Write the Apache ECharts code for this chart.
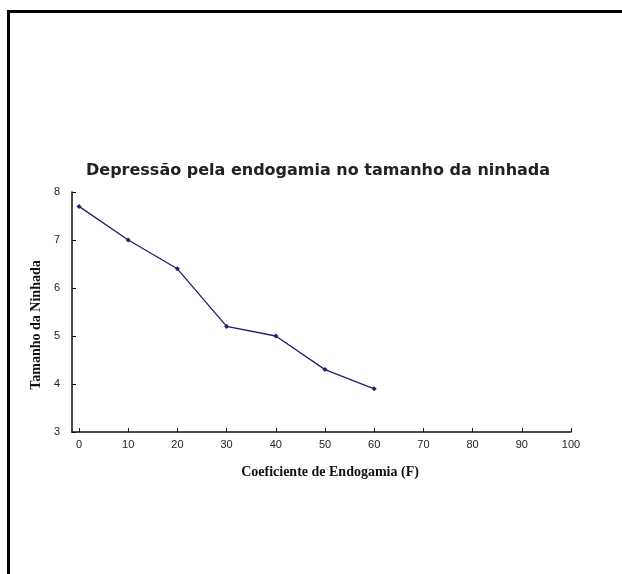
<!DOCTYPE html>
<html>
<head>
<meta charset="utf-8">
<script src="https://cdn.jsdelivr.net/npm/echarts@6/dist/echarts.min.js"></script>
<style>
  html, body { margin: 0; padding: 0; background: #fff; }
  #chart { position: absolute; left: 0; top: 0; width: 622px; height: 574px; }
  #frame { position: absolute; left: 7px; top: 10px; width: 640px; height: 600px;
           border-left: 3px solid #000; border-top: 3px solid #000; pointer-events: none; }
</style>
</head>
<body>
<div id="chart"></div>
<div id="frame"></div>
<script>
// Inbreeding coefficient (F, %) and mean litter size
const coefficientF = [0, 10, 20, 30, 40, 50, 60];
const litterSize = [7.7, 7.0, 6.4, 5.2, 5.0, 4.3, 3.9];
const xTicks = [0, 10, 20, 30, 40, 50, 60, 70, 80, 90, 100];
const yTicks = [3, 4, 5, 6, 7, 8];

const titleText = 'Depressão pela endogamia no tamanho da ninhada';
const xName = 'Coeficiente de Endogamia (F)';
const yName = 'Tamanho da Ninhada';

const chart = echarts.init(document.getElementById('chart'));
const axisColor = '#111';
const labelStyle = { color: '#222', fontFamily: 'Liberation Sans, Arial, sans-serif', fontSize: 11 };
const nameStyle = { fontFamily: 'Liberation Serif, serif', fontWeight: 'bold', fontSize: 14, color: '#111' };

chart.setOption({
  animation: false,
  backgroundColor: '#fff',
  title: {
    text: titleText,
    left: 81,
    top: 158,
    textStyle: { fontFamily: 'DejaVu Sans, sans-serif', fontSize: 16, fontWeight: 'bold', color: '#222' }
  },
  grid: { left: 79, right: 51, top: 192, bottom: 142 },
  xAxis: {
    type: 'value',
    min: xTicks[0],
    max: xTicks[xTicks.length - 1],
    interval: 10,
    name: xName,
    nameLocation: 'middle',
    nameGap: 33,
    nameTextStyle: Object.assign({ padding: [0, 0, 0, 10] }, nameStyle),
    axisLine: { onZero: false, lineStyle: { color: axisColor, width: 1.5 } },
    axisTick: { inside: true, length: 4, lineStyle: { color: axisColor } },
    axisLabel: Object.assign({ margin: 7 }, labelStyle),
    splitLine: { show: false }
  },
  yAxis: {
    type: 'value',
    min: yTicks[0],
    max: yTicks[yTicks.length - 1],
    interval: 1,
    offset: 7,
    name: yName,
    nameLocation: 'middle',
    nameGap: 22,
    nameTextStyle: Object.assign({ padding: [0, 26, 0, 0] }, nameStyle),
    axisLine: { show: true, onZero: false, lineStyle: { color: axisColor, width: 1.5 } },
    axisTick: { show: true, inside: true, length: 4, lineStyle: { color: axisColor } },
    axisLabel: Object.assign({ margin: 12 }, labelStyle),
    splitLine: { show: false }
  },
  series: [{
    type: 'line',
    data: coefficientF.map((f, i) => [f, litterSize[i]]),
    symbol: 'diamond',
    symbolSize: 5,
    lineStyle: { color: '#1f1f6b', width: 1.3 },
    itemStyle: { color: '#1f1f6b' }
  }]
});

// Close the gap between the offset y-axis line and the x-axis line at the origin
const origin = chart.convertToPixel({ gridIndex: 0 }, [xTicks[0], yTicks[0]]);
chart.setOption({
  graphic: [{
    type: 'line',
    shape: { x1: origin[0] - 7.75, y1: origin[1], x2: origin[0], y2: origin[1] },
    style: { stroke: axisColor, lineWidth: 1.5 }
  }]
});
</script>
</body>
</html>
